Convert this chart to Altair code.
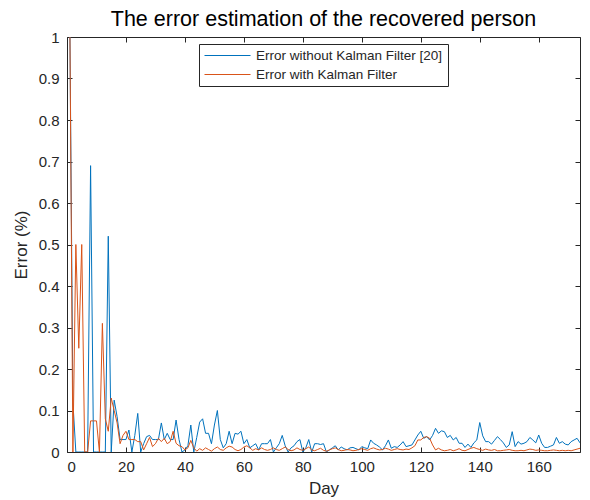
import altair as alt
import pandas as pd

# Daily relative error of the recovered-person estimate, days 1..174
days = list(range(1, 175))

err_without_kf = [
    1.0, 0.12, 0.0, 0.0, 0.0, 0.0, 0.0, 0.69, 0.0, 0.0,
    0.0, 0.0, 0.0, 0.52, 0.0, 0.125, 0.085, 0.03, 0.03, 0.03,
    0.053, 0.0, 0.04, 0.093, 0.0, 0.02, 0.037, 0.04, 0.03, 0.03,
    0.03, 0.07, 0.03, 0.045, 0.03, 0.03, 0.077, 0.03, 0.0, 0.005,
    0.015, 0.065, 0.0, 0.035, 0.072, 0.08, 0.045, 0.045, 0.02, 0.065,
    0.1, 0.03, 0.01, 0.02, 0.05, 0.02, 0.045, 0.043, 0.05, 0.02,
    0.03, 0.01, 0.015, 0.02, 0.005, 0.02, 0.02, 0.02, 0.03, 0.0,
    0.01, 0.02, 0.04, 0.015, 0.0, 0.01, 0.015, 0.025, 0.03, 0.0,
    0.01, 0.03, 0.0, 0.02, 0.02, 0.018, 0.02, 0.0, 0.005, 0.01,
    0.015, 0.005, 0.012, 0.008, 0.005, 0.01, 0.011, 0.008, 0.005, 0.013,
    0.01, 0.008, 0.029, 0.021, 0.017, 0.012, 0.005, 0.015, 0.029, 0.009,
    0.013, 0.011, 0.017, 0.025, 0.013, 0.015, 0.017, 0.029, 0.041, 0.05,
    0.033, 0.037, 0.029, 0.04, 0.057, 0.045, 0.051, 0.049, 0.035, 0.04,
    0.029, 0.035, 0.021, 0.021, 0.011, 0.019, 0.011, 0.022, 0.029, 0.071,
    0.039, 0.025, 0.025, 0.019, 0.028, 0.037, 0.03, 0.022, 0.011, 0.017,
    0.049, 0.013, 0.025, 0.019, 0.021, 0.025, 0.035, 0.029, 0.022, 0.041,
    0.021, 0.011, 0.011, 0.014, 0.017, 0.035, 0.021, 0.025, 0.019, 0.017,
    0.025, 0.029, 0.033, 0.022,
]

err_with_kf = [
    1.0, 0.0, 0.5, 0.25, 0.5, 0.0, 0.0, 0.075, 0.075, 0.075,
    0.0, 0.31, 0.08, 0.05, 0.13, 0.1, 0.07, 0.02, 0.04, 0.05,
    0.03, 0.03, 0.03, 0.025, 0.025, 0.005, 0.02, 0.035, 0.013, 0.02,
    0.033, 0.025, 0.033, 0.02, 0.025, 0.05, 0.021, 0.015, 0.013, 0.005,
    0.01, 0.028, 0.01, 0.002, 0.008, 0.004, 0.01, 0.006, 0.002, 0.008,
    0.012, 0.006, 0.004, 0.01, 0.014, 0.012, 0.006, 0.003, 0.006, 0.012,
    0.015, 0.01, 0.004, 0.008, 0.005, 0.01, 0.006, 0.004, 0.006, 0.01,
    0.006, 0.004, 0.008, 0.012, 0.006, 0.003, 0.005, 0.01, 0.006, 0.004,
    0.008, 0.012, 0.005, 0.003, 0.006, 0.009, 0.004, 0.002, 0.005, 0.008,
    0.01, 0.006, 0.003, 0.004, 0.006, 0.005, 0.003, 0.004, 0.006, 0.008,
    0.006, 0.004, 0.008, 0.01, 0.007, 0.005, 0.006, 0.009, 0.007, 0.004,
    0.006, 0.008, 0.006, 0.005, 0.007, 0.006, 0.01, 0.015, 0.029, 0.029,
    0.035, 0.037, 0.033, 0.017, 0.005, 0.009, 0.005, 0.003, 0.004, 0.006,
    0.003, 0.005, 0.008, 0.004, 0.003, 0.006, 0.009, 0.011, 0.008, 0.006,
    0.004, 0.007, 0.005, 0.004, 0.006, 0.003, 0.003, 0.004, 0.005, 0.006,
    0.004, 0.003, 0.003, 0.004, 0.003, 0.005, 0.007, 0.006, 0.004, 0.005,
    0.004, 0.003, 0.003, 0.004, 0.005, 0.004, 0.003, 0.004, 0.003, 0.004,
    0.003, 0.005, 0.007, 0.009,
]

series_names = ["Error without Kalman Filter [20]", "Error with Kalman Filter"]
series_colors = ["#0072BD", "#D95319"]

x_ticks = [0, 20, 40, 60, 80, 100, 120, 140, 160]
y_ticks = [0, 0.1, 0.2, 0.3, 0.4, 0.5, 0.6, 0.7, 0.8, 0.9, 1]

df = pd.DataFrame({
    "Day": days + days,
    "Error": err_without_kf + err_with_kf,
    "Series": [series_names[0]] * len(days) + [series_names[1]] * len(days),
})

FONT = "Liberation Sans"
INK = "#262626"

x_scale = alt.Scale(domain=[0, 174], nice=False, zero=False)
y_scale = alt.Scale(domain=[0, 1], nice=False)

lines = alt.Chart(df).mark_line(strokeWidth=1, clip=True).encode(
    x=alt.X("Day:Q", scale=x_scale, axis=alt.Axis(
        orient="bottom", values=x_ticks, ticks=False, domain=False, grid=False,
        labelPadding=7, labelFontSize=15, labelColor=INK, labelFont=FONT,
        title="Day", titleFontSize=17, titleFontWeight="normal", titleColor=INK,
        titleFont=FONT, titlePadding=6)),
    y=alt.Y("Error:Q", scale=y_scale, axis=alt.Axis(
        orient="left", values=y_ticks, format="~g", ticks=False, domain=False, grid=False,
        labelPadding=8, labelFontSize=15, labelColor=INK, labelFont=FONT,
        title="Error (%)", titleFontSize=17, titleFontWeight="normal", titleColor=INK,
        titleFont=FONT, titlePadding=8)),
    color=alt.Color("Series:N", sort=series_names,
                    scale=alt.Scale(domain=series_names, range=series_colors),
                    legend=alt.Legend(
                        orient="none", legendX=132, legendY=7, title=None,
                        symbolType="stroke", symbolSize=2116, symbolStrokeWidth=1,
                        clipHeight=13, rowPadding=5, padding=5, labelOffset=5,
                        labelFontSize=13.5, labelFont=FONT, labelColor=INK, labelLimit=400,
                        strokeColor=INK, fillColor="white")),
)

# Inward-pointing tick marks on all four sides of the axes box
tick_style = dict(labels=False, domain=False, grid=False, title=None,
                  tickSize=5, offset=-5, tickColor=INK, tickWidth=1)

ticks_bl = alt.Chart(df).mark_point(opacity=0, size=1).encode(
    x=alt.X("Day:Q", scale=x_scale, axis=alt.Axis(orient="bottom", values=x_ticks, **tick_style)),
    y=alt.Y("Error:Q", scale=y_scale, axis=alt.Axis(orient="left", values=y_ticks, **tick_style)),
)
ticks_tr = alt.Chart(df).mark_point(opacity=0, size=1).encode(
    x=alt.X("Day:Q", scale=x_scale, axis=alt.Axis(orient="top", values=x_ticks, **tick_style)),
    y=alt.Y("Error:Q", scale=y_scale, axis=alt.Axis(orient="right", values=y_ticks, **tick_style)),
)

chart = alt.layer(lines, ticks_bl, ticks_tr).resolve_axis(
    x="independent", y="independent"
).properties(
    width=513,
    height=415,
    title=alt.TitleParams(
        "The error estimation of the recovered person",
        fontSize=21.5, font=FONT, fontWeight="normal", color="black",
        anchor="middle", offset=0),
    autosize=alt.AutoSizeParams(type="none"),
    padding={"left": 67, "top": 37, "right": 10, "bottom": 48},
    background="white",
).configure_view(
    stroke=INK, strokeWidth=1
)

chart.save("out.html", embed_options={"renderer": "svg", "actions": False})
